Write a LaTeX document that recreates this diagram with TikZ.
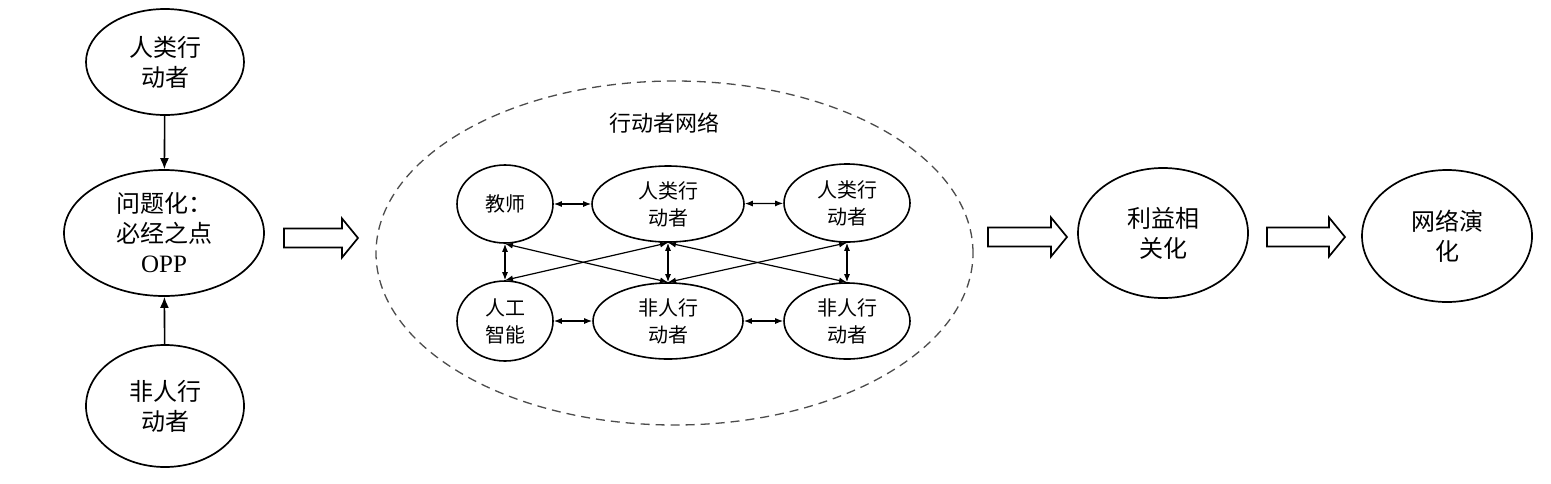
\documentclass[tikz,border=0pt]{standalone}
\usepackage{fontspec}
\setmainfont{Liberation Serif}
\newfontfamily\cjk{Noto Sans CJK SC}
\usetikzlibrary{shapes.geometric,arrows.meta}
\tikzset{
  ell/.style={ellipse, draw, line width=0.85pt, inner sep=0pt, align=center,
    font=\cjk\fontsize{12}{15}\selectfont},
  smallell/.style={ell, line width=0.8pt, font=\cjk\fontsize{10}{13.5}\selectfont},
  link/.style={line width=0.6pt, {Latex[length=4pt,width=3pt]}-{Latex[length=4pt,width=3pt]}},
  feed/.style={line width=0.8pt, -{Latex[length=5.5pt,width=4.5pt]}},
  hollow/.style={draw, line width=0.85pt, fill=white, line join=miter},
  netring/.style={ellipse, draw=black!70, line width=0.65pt, dash pattern=on 4.5pt off 3pt, inner sep=0pt},
}
\newcommand{\hollowarrow}[3]{%
  \draw[hollow] (#1,#3-9.5) -- (#2-16,#3-9.5) -- (#2-16,#3-19.5) -- (#2,#3)
    -- (#2-16,#3+19.5) -- (#2-16,#3+9.5) -- (#1,#3+9.5) -- cycle;}
\begin{document}
\begin{tikzpicture}[x=0.5pt,y=-0.5pt]
\useasboundingbox[fill=white] (0,0) rectangle (1551,483);

% left column
\node[ell, minimum width=79pt, minimum height=53pt] (hum) at (165,62) {人类行\\动者};
\node[ell, minimum width=100pt, minimum height=63pt] (opp) at (164,233) {问题化：\\必经之点\\{\normalfont\fontsize{12.5}{15}\selectfont OPP}};
\node[ell, minimum width=79pt, minimum height=61pt] (non) at (165,406) {非人行\\动者};
\draw[feed] (hum) -- (opp);
\draw[feed] (non) -- (opp);

\hollowarrow{284}{358}{238}

% actor network
\node[netring, minimum width=298.5pt, minimum height=172pt] (net) at (674.5,253) {};
\node[font=\cjk\fontsize{11}{13}\selectfont] (netlabel) at (664,123) {行动者网络};

\node[smallell, minimum width=48pt, minimum height=39pt] (t1) at (505,204) {教师};
\node[smallell, minimum width=76pt, minimum height=38pt] (t2) at (668,204) {人类行\\动者};
\node[smallell, minimum width=63pt, minimum height=39pt] (t3) at (847,203) {人类行\\动者};
\node[smallell, minimum width=48pt, minimum height=40pt] (b1) at (505,321) {人工\\智能};
\node[smallell, minimum width=75pt, minimum height=38pt] (b2) at (668,321) {非人行\\动者};
\node[smallell, minimum width=63pt, minimum height=38pt] (b3) at (847,321) {非人行\\动者};

\draw[link] (t1) -- (t2);
\draw[link] (t2) -- (t3);
\draw[link] (b1) -- (b2);
\draw[link] (b2) -- (b3);
\draw[link] (t1.south) -- (b1.north);
\draw[link] (t2.south) -- (b2.north);
\draw[link] (t3.south) -- (b3.north);
\draw[link] (t1.south) -- (b2.north);
\draw[link] (t2.south) -- (b1.north);
\draw[link] (t2.south) -- (b3.north);
\draw[link] (t3.south) -- (b2.north);

\hollowarrow{988}{1067}{237}

\node[ell, minimum width=85pt, minimum height=65pt] (interest) at (1163,233) {利益相\\关化};

\hollowarrow{1267}{1345}{237}

\node[ell, minimum width=85pt, minimum height=66pt] (evol) at (1447,236) {网络演\\化};
\end{tikzpicture}
\end{document}
